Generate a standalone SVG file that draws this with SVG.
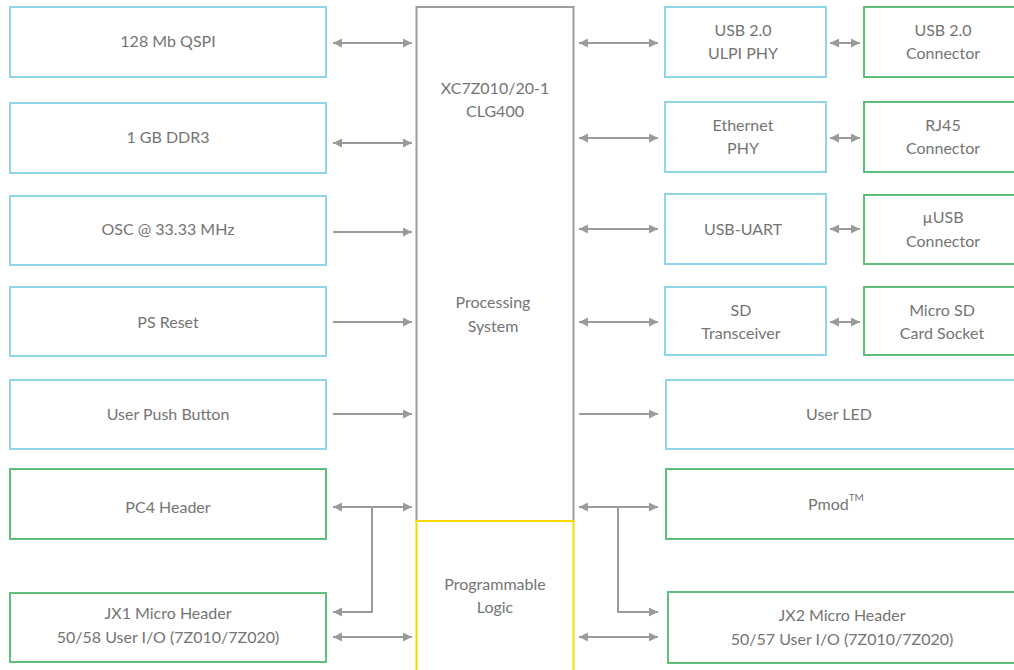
<svg xmlns="http://www.w3.org/2000/svg" width="1014" height="670" viewBox="0 0 1014 670">
<style>
.b{fill:#fff;stroke:#8fd6e8;stroke-width:2}
.g{fill:#fff;stroke:#5dbf78;stroke-width:2}
.t{font-family:Lato,"Open Sans",sans-serif;font-size:16px;font-weight:400;fill:#747474;text-anchor:middle;dominant-baseline:central}
.c line,.c path{stroke:#9a9a9a;stroke-width:2;fill:none}
.d{marker-start:url(#a);marker-end:url(#a)}
.s{marker-end:url(#a)}
</style>
<defs>
<marker id="a" markerUnits="userSpaceOnUse" markerWidth="10" markerHeight="10" refX="9" refY="4.5" orient="auto-start-reverse"><path d="M0,0 L9,4.5 L0,9 z" fill="#9a9a9a"/></marker>
</defs>
<rect x="0" y="0" width="1014" height="670" fill="#fff"/>
<g id="ps"><rect x="416.5" y="7" width="157" height="514" fill="#fff" stroke="#9d9d9d" stroke-width="2"/>
<text class="t" x="495" y="87">XC7Z010/20-1</text><text class="t" x="495" y="110">CLG400</text>
<text class="t" x="493" y="301">Processing</text><text class="t" x="493" y="325">System</text></g>
<g id="pl"><rect x="416.5" y="521" width="157" height="160" fill="#fff" stroke="#f7d900" stroke-width="2"/>
<text class="t" x="495" y="583">Programmable</text><text class="t" x="495" y="606">Logic</text></g>
<g id="qspi"><rect class="b" x="10" y="7" width="316" height="70"/><text class="t" x="168" y="40">128 Mb QSPI</text></g>
<g id="ddr3"><rect class="b" x="10" y="103" width="316" height="70"/><text class="t" x="168" y="136">1 GB DDR3</text></g>
<g id="osc"><rect class="b" x="10" y="196" width="316" height="69"/><text class="t" x="168" y="228">OSC @ 33.33 MHz</text></g>
<g id="psreset"><rect class="b" x="10" y="287" width="316" height="69"/><text class="t" x="168" y="321">PS Reset</text></g>
<g id="btn"><rect class="b" x="10" y="380" width="316" height="69"/><text class="t" x="168" y="413">User Push Button</text></g>
<g id="pc4"><rect class="g" x="10" y="469" width="316" height="70"/><text class="t" x="168" y="506">PC4 Header</text></g>
<g id="jx1"><rect class="g" x="10" y="593" width="316" height="69"/><text class="t" x="168" y="612">JX1 Micro Header</text><text class="t" x="168" y="636">50/58 User I/O (7Z010/7Z020)</text></g>
<g id="ulpi"><rect class="b" x="665" y="7" width="161" height="70"/><text class="t" x="743" y="29">USB 2.0</text><text class="t" x="743" y="52">ULPI PHY</text></g>
<g id="eth"><rect class="b" x="665" y="102" width="161" height="70"/><text class="t" x="743" y="124">Ethernet</text><text class="t" x="743" y="147">PHY</text></g>
<g id="uart"><rect class="b" x="665" y="194" width="161" height="70"/><text class="t" x="743" y="228">USB-UART</text></g>
<g id="sdt"><rect class="b" x="665" y="287" width="161" height="68"/><text class="t" x="741" y="309">SD</text><text class="t" x="741" y="332">Transceiver</text></g>
<g id="usbc"><rect class="g" x="864" y="7" width="160" height="70"/><text class="t" x="943" y="29">USB 2.0</text><text class="t" x="943" y="52">Connector</text></g>
<g id="rj45"><rect class="g" x="864" y="102" width="160" height="70"/><text class="t" x="943" y="124">RJ45</text><text class="t" x="943" y="147">Connector</text></g>
<g id="uusb"><rect class="g" x="864" y="195" width="160" height="69"/><text class="t" x="943" y="216">µUSB</text><text class="t" x="943" y="240">Connector</text></g>
<g id="sdsock"><rect class="g" x="864" y="287" width="160" height="68"/><text class="t" x="942" y="309">Micro SD</text><text class="t" x="942" y="332">Card Socket</text></g>
<g id="led"><rect class="b" x="666" y="380" width="360" height="69"/><text class="t" x="839" y="413">User LED</text></g>
<g id="pmod"><rect class="g" x="666" y="469" width="360" height="70"/><text class="t" x="836" y="503">Pmod<tspan font-size="10" dy="-6">TM</tspan></text></g>
<g id="jx2"><rect class="g" x="668" y="592" width="360" height="71"/><text class="t" x="842" y="614">JX2 Micro Header</text><text class="t" x="842" y="638">50/57 User I/O (7Z010/7Z020)</text></g>
<g id="connectors" class="c">
<line class="d" x1="333" y1="43" x2="412" y2="43"/>
<line class="d" x1="333" y1="143" x2="412" y2="143"/>
<line class="s" x1="333" y1="232" x2="412" y2="232"/>
<line class="s" x1="333" y1="322" x2="412" y2="322"/>
<line class="s" x1="333" y1="414" x2="412" y2="414"/>
<line class="d" x1="333" y1="507" x2="412" y2="507"/>
<path class="s" d="M372,507 V612 H333"/>
<line class="d" x1="333" y1="637" x2="412" y2="637"/>
<line class="d" x1="579" y1="43" x2="658" y2="43"/>
<line class="d" x1="579" y1="138" x2="658" y2="138"/>
<line class="d" x1="579" y1="229" x2="658" y2="229"/>
<line class="d" x1="579" y1="322" x2="658" y2="322"/>
<line class="s" x1="579" y1="414" x2="658" y2="414"/>
<line class="d" x1="579" y1="507" x2="658" y2="507"/>
<path class="s" d="M618,507 V612 H658"/>
<line class="d" x1="579" y1="637" x2="658" y2="637"/>
<line class="d" x1="830" y1="43" x2="860" y2="43"/>
<line class="d" x1="830" y1="138" x2="860" y2="138"/>
<line class="d" x1="830" y1="229" x2="860" y2="229"/>
<line class="d" x1="830" y1="322" x2="860" y2="322"/>
</g>
</svg>
